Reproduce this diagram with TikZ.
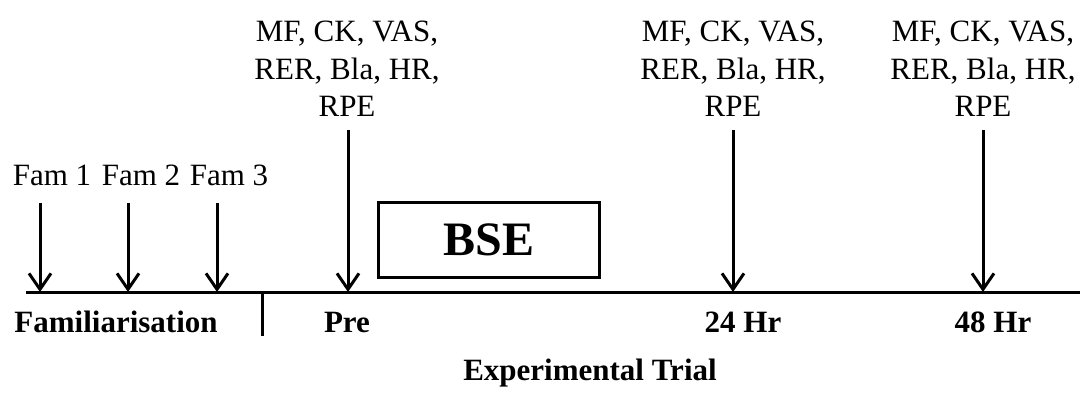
\documentclass[tikz,border=0pt]{standalone}
\usepackage{fontspec}
\setmainfont{Liberation Serif}
\usetikzlibrary{arrows.meta}
\tikzset{
  lbl/.style={inner sep=0pt, font=\fontsize{31}{37.5}\selectfont},
  blbl/.style={inner sep=0pt, font=\fontsize{31}{37.5}\selectfont\bfseries},
  meas/.style={inner sep=0pt, align=center, anchor=base, font=\fontsize{31}{37.5}\selectfont},
  tl/.style={line width=3pt},
  arr/.style={line width=3pt, -{Straight Barb[length=16pt,width=22pt,line width=3pt]}},
}
\begin{document}
\begin{tikzpicture}[x=1pt,y=-1pt]
\useasboundingbox (0,0) rectangle (1080,396);
% timeline
\coordinate (L) at (26,292);
\coordinate (R) at (1080,292);
\draw[tl] (L) -- (R);
\coordinate (d1) at (262,292);
\coordinate (d2) at (262,336);
\draw[tl] (d1) -- (d2);
% familiarisation arrows
\node[lbl, anchor=base] (f1) at (52,185) {Fam 1};
\node[lbl, anchor=base] (f2) at (141,185) {Fam 2};
\node[lbl, anchor=base] (f3) at (229,185) {Fam 3};
\coordinate (f1t) at (40,203); \coordinate (f1b) at (40,292);
\coordinate (f2t) at (128,203); \coordinate (f2b) at (128,292);
\coordinate (f3t) at (217,203); \coordinate (f3b) at (217,292);
\draw[arr] (f1t) -- (f1b);
\draw[arr] (f2t) -- (f2b);
\draw[arr] (f3t) -- (f3b);
% measurement labels
\node[meas] (m1) at (347,117) {MF, CK, VAS,\\RER, Bla, HR,\\RPE};
\node[meas] (m2) at (733,117) {MF, CK, VAS,\\RER, Bla, HR,\\RPE};
\node[meas] (m3) at (983,117) {MF, CK, VAS,\\RER, Bla, HR,\\RPE};
\coordinate (m1t) at (348,130); \coordinate (m1b) at (348,292);
\coordinate (m2t) at (733,130); \coordinate (m2b) at (733,292);
\coordinate (m3t) at (983,130); \coordinate (m3b) at (983,292);
\draw[arr] (m1t) -- (m1b);
\draw[arr] (m2t) -- (m2b);
\draw[arr] (m3t) -- (m3b);
% BSE box
\node[draw, line width=3pt, minimum width=221pt, minimum height=75pt, inner sep=0pt,
      font=\fontsize{48}{50}\selectfont\bfseries] (bse) at (489,240) {BSE};
% bottom labels
\node[blbl, anchor=base] (fam) at (116,332) {Familiarisation};
\node[blbl, anchor=base] (pre) at (347,332) {Pre};
\node[blbl, anchor=base] (h24) at (743,332) {24 Hr};
\node[blbl, anchor=base] (h48) at (993,332) {48 Hr};
\node[blbl, anchor=base] (exp) at (590,380) {Experimental Trial};
\end{tikzpicture}
\end{document}
